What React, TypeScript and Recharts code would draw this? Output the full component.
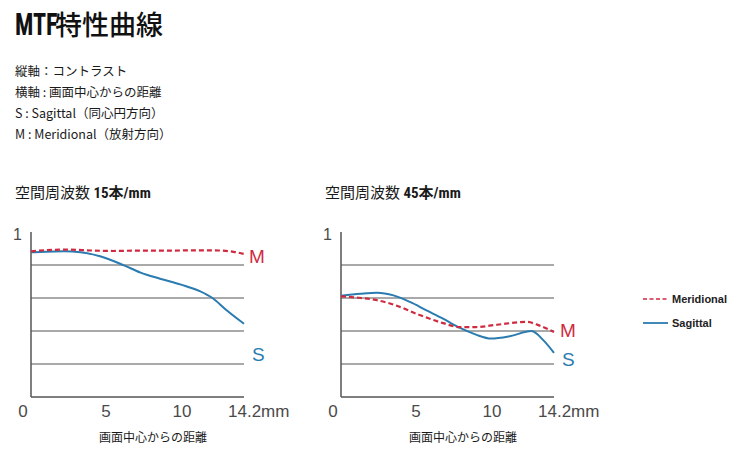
import React from "react";
import { LineChart, Line, XAxis, YAxis, ReferenceLine } from "recharts";

// ---- data ----
const xTicks = [0, 5, 10, 14.2];
const yTicks = [1];
const gridValues = [0.2, 0.4, 0.6, 0.8];

const leftMx = [0, 1.5, 2.5, 4, 5.5, 7, 9, 11, 12.5, 13.5, 14.2];
const leftMy = [0.883, 0.892, 0.893, 0.888, 0.885, 0.887, 0.887, 0.889, 0.888, 0.88, 0.867];
const leftSx = [0, 1, 2.2, 3.3, 4.6, 6.2, 7.3, 8.6, 10, 11.25, 12.1, 13, 14.2];
const leftSy = [0.877, 0.881, 0.883, 0.878, 0.853, 0.798, 0.754, 0.717, 0.681, 0.642, 0.6, 0.529, 0.444];

const rightMx = [0, 1, 2.2, 3.5, 5.3, 6.8, 7.9, 9, 10.4, 12.4, 13.2, 14.2];
const rightMy = [0.61, 0.603, 0.59, 0.56, 0.495, 0.448, 0.424, 0.424, 0.438, 0.455, 0.434, 0.394];
const rightSx = [0, 1.3, 2.4, 3.5, 4.6, 5.7, 6.8, 7.9, 9, 10, 11.25, 12.7, 13.5, 14.2];
const rightSy = [0.614, 0.626, 0.632, 0.616, 0.576, 0.525, 0.475, 0.42, 0.378, 0.354, 0.368, 0.4, 0.343, 0.267];

const titleLatin = "MTF";
const titleCjk = "特性曲線";
const notes = ["縦軸：コントラスト", "横軸 : 画面中心からの距離", "S : Sagittal（同心円方向）", "M : Meridional（放射方向）"];
const chartTitles = [
  { cjk: "空間周波数 ", num: "15本/mm" },
  { cjk: "空間周波数 ", num: "45本/mm" },
];
const xAxisTitle = "画面中心からの距離";
const legendNames = ["Meridional", "Sagittal"];

const RED = "#cf2a3f";
const BLUE = "#2a7bb0";
const GRID = "#555";
const CJK = "'Noto Sans CJK JP', 'Noto Sans', sans-serif";
const NARROW = "'Liberation Sans Narrow', 'Roboto Condensed', 'Noto Sans CJK JP', sans-serif";
const SANS = "'Liberation Sans', Arial, sans-serif";

const toPts = (xs: number[], ys: number[]) => xs.map((x, i) => ({ x, y: ys[i] }));

const XTick = (props: any) => {
  const { x, y, payload } = props;
  const v = payload.value;
  let label = String(v);
  let anchor: "middle" | "start" = "middle";
  let dx = 0;
  if (v === 0) dx = -8;
  if (v === 14.2) {
    label = "14.2mm";
    anchor = "start";
    dx = -16;
  }
  if (v === 10) dx = 1;
  return (
    <text x={x + dx} y={y + 6} textAnchor={anchor} dominantBaseline="central" fontFamily={SANS} fontSize={17} fill="#4a4a4a">
      {label}
    </text>
  );
};

const YTick = (props: any) => {
  const { y, payload } = props;
  return (
    <text x={22} y={y + 2} textAnchor="end" dominantBaseline="central" fontFamily={SANS} fontSize={16} fill="#4a4a4a">
      {String(payload.value)}
    </text>
  );
};

const MtfChart = ({ m, s }: { m: { x: number; y: number }[]; s: { x: number; y: number }[] }) => (
  <LineChart width={320} height={240} margin={{ top: 32, right: 76, bottom: 13, left: 0 }}>
    <XAxis
      type="number"
      dataKey="x"
      domain={[0, 14.2]}
      ticks={xTicks}
      interval={0}
      axisLine={false}
      tickLine={false}
      tick={<XTick />}
      height={30}
    />
    <YAxis
      type="number"
      dataKey="y"
      domain={[0, 1]}
      ticks={yTicks}
      interval={0}
      width={31}
      axisLine={false}
      tickLine={false}
      tick={<YTick />}
    />
    {gridValues.map((g) => (
      <ReferenceLine key={g} y={g} stroke={GRID} strokeWidth={1.2} />
    ))}
    <ReferenceLine y={0} stroke={GRID} strokeWidth={1.5} />
    <ReferenceLine x={0} stroke={GRID} strokeWidth={1.5} />
    <Line data={s} dataKey="y" type="monotone" stroke={BLUE} strokeWidth={2} dot={false} isAnimationActive={false} />
    <Line
      data={m}
      dataKey="y"
      type="monotone"
      stroke={RED}
      strokeWidth={2.2}
      strokeDasharray="5 3"
      dot={false}
      isAnimationActive={false}
    />
  </LineChart>
);

const abs = (left: number, top: number, extra: React.CSSProperties = {}): React.CSSProperties => ({
  position: "absolute",
  left,
  top,
  whiteSpace: "nowrap",
  ...extra,
});

export default function App() {
  const chartLefts = [0, 310];
  const series = [
    { m: toPts(leftMx, leftMy), s: toPts(leftSx, leftSy) },
    { m: toPts(rightMx, rightMy), s: toPts(rightSx, rightSy) },
  ];
  const msLabels = [
    { mx: 249, my: 257, sx: 252, sy: 355 },
    { mx: 560, my: 331, sx: 562, sy: 360 },
  ];
  return (
    <div
      style={{
        position: "fixed",
        left: 0,
        top: 0,
        width: 747,
        height: 459,
        background: "#fff",
        overflow: "hidden",
        color: "#1a1a1a",
      }}
    >
      <div style={abs(15, 5, { fontWeight: 700, lineHeight: "38px", color: "#111", display: "flex", alignItems: "baseline" })}>
        <span
          style={{
            fontFamily: NARROW,
            fontSize: 31,
            display: "inline-block",
            width: 40,
            transform: "scaleX(0.78)",
            transformOrigin: "left",
          }}
        >
          {titleLatin}
        </span>
        <span style={{ fontFamily: CJK, fontWeight: 500, fontSize: 27 }}>{titleCjk}</span>
      </div>
      {notes.map((n, i) => (
        <div key={i} style={abs(15, 61 + i * 21, { fontFamily: CJK, fontSize: 12.5, lineHeight: "20px" })}>
          {n}
        </div>
      ))}
      {chartTitles.map((t, i) => (
        <div key={i} style={abs(15 + chartLefts[i], 181, { fontSize: 15, lineHeight: "22px" })}>
          <span style={{ fontFamily: CJK }}>{t.cjk}</span>
          <span style={{ fontFamily: NARROW, fontWeight: 700, fontSize: 15 }}>{t.num}</span>
        </div>
      ))}
      {series.map((sr, i) => (
        <div key={i} style={abs(chartLefts[i], 200)}>
          <MtfChart m={sr.m} s={sr.s} />
        </div>
      ))}
      {series.map((_, i) => (
        <div
          key={"xt" + i}
          style={abs(chartLefts[i] + 153 - 55, 428, { width: 110, textAlign: "center", fontFamily: CJK, fontSize: 12, lineHeight: "18px" })}
        >
          {xAxisTitle}
        </div>
      ))}
      {msLabels.map((l, i) => (
        <React.Fragment key={"ms" + i}>
          <div style={abs(l.mx, l.my - 11, { color: RED, fontFamily: SANS, fontSize: 19, lineHeight: "22px" })}>M</div>
          <div style={abs(l.sx, l.sy - 11, { color: BLUE, fontFamily: SANS, fontSize: 19, lineHeight: "22px" })}>S</div>
        </React.Fragment>
      ))}
      <svg style={abs(640, 290)} width={32} height={40}>
        <line x1={3} x2={28} y1={9} y2={9} stroke={RED} strokeWidth={1.6} strokeDasharray="4 2.5" />
        <line x1={3} x2={28} y1={33} y2={33} stroke={BLUE} strokeWidth={1.8} />
      </svg>
      {legendNames.map((n, i) => (
        <div
          key={n}
          style={abs(672, 291 + i * 24, { fontFamily: SANS, fontWeight: 700, fontSize: 11, lineHeight: "16px", color: "#222" })}
        >
          {n}
        </div>
      ))}
    </div>
  );
}
